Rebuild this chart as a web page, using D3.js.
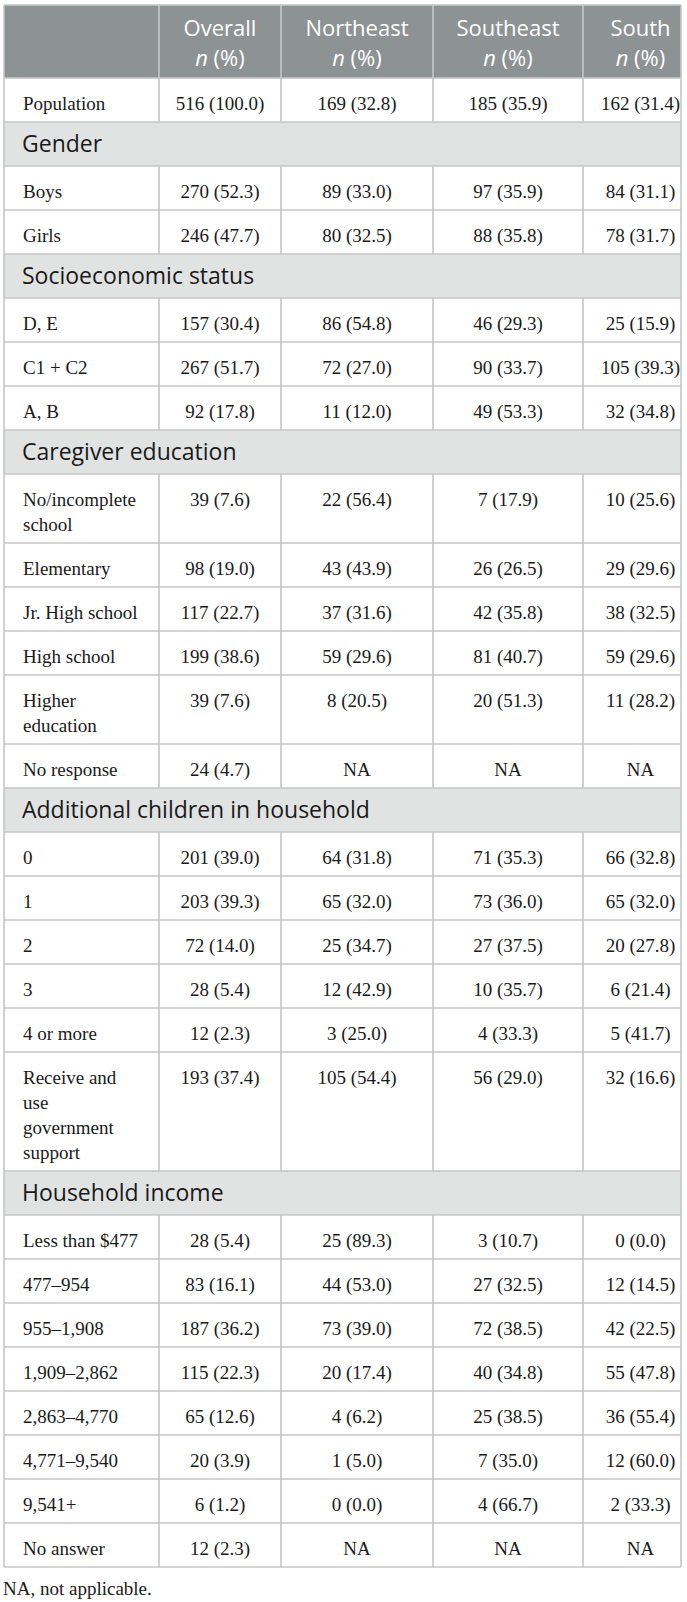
<!DOCTYPE html>
<html>
<head>
<meta charset="utf-8">
<script src="https://cdn.jsdelivr.net/npm/d3@7"></script>
<style>
  body { margin: 0; background: #fff; }
</style>
</head>
<body>
<script>
// column headers
var columns = ["Overall", "Northeast", "Southeast", "South"];

// section titles, shown as grey bands
var sectionTitles = ["Gender", "Socioeconomic status", "Caregiver education",
    "Additional children in household", "Household income"];

// row labels ("\n" = line break in the cell) and the section they belong to (-1 = none)
var rowLabels = ["Population",
    "Boys", "Girls",
    "D, E", "C1 + C2", "A, B",
    "No/incomplete\nschool", "Elementary", "Jr. High school", "High school", "Higher\neducation", "No response",
    "0", "1", "2", "3", "4 or more", "Receive and\nuse\ngovernment\nsupport",
    "Less than $477", "477\u2013954", "955\u20131,908", "1,909\u20132,862", "2,863\u20134,770",
    "4,771\u20139,540", "9,541+", "No answer"];
var rowSection = [-1, 0, 0, 1, 1, 1, 2, 2, 2, 2, 2, 2, 3, 3, 3, 3, 3, 3, 4, 4, 4, 4, 4, 4, 4, 4];

// n and % per region (null = NA)
var overallN   = [516, 270, 246, 157, 267, 92, 39, 98, 117, 199, 39, 24, 201, 203, 72, 28, 12, 193, 28, 83, 187, 115, 65, 20, 6, 12];
var overallPct = [100.0, 52.3, 47.7, 30.4, 51.7, 17.8, 7.6, 19.0, 22.7, 38.6, 7.6, 4.7, 39.0, 39.3, 14.0, 5.4, 2.3, 37.4, 5.4, 16.1, 36.2, 22.3, 12.6, 3.9, 1.2, 2.3];
var northeastN   = [169, 89, 80, 86, 72, 11, 22, 43, 37, 59, 8, null, 64, 65, 25, 12, 3, 105, 25, 44, 73, 20, 4, 1, 0, null];
var northeastPct = [32.8, 33.0, 32.5, 54.8, 27.0, 12.0, 56.4, 43.9, 31.6, 29.6, 20.5, null, 31.8, 32.0, 34.7, 42.9, 25.0, 54.4, 89.3, 53.0, 39.0, 17.4, 6.2, 5.0, 0.0, null];
var southeastN   = [185, 97, 88, 46, 90, 49, 7, 26, 42, 81, 20, null, 71, 73, 27, 10, 4, 56, 3, 27, 72, 40, 25, 7, 4, null];
var southeastPct = [35.9, 35.9, 35.8, 29.3, 33.7, 53.3, 17.9, 26.5, 35.8, 40.7, 51.3, null, 35.3, 36.0, 37.5, 35.7, 33.3, 29.0, 10.7, 32.5, 38.5, 34.8, 38.5, 35.0, 66.7, null];
var southN   = [162, 84, 78, 25, 105, 32, 10, 29, 38, 59, 11, null, 66, 65, 20, 6, 5, 32, 0, 12, 42, 55, 36, 12, 2, null];
var southPct = [31.4, 31.1, 31.7, 15.9, 39.3, 34.8, 25.6, 29.6, 32.5, 29.6, 28.2, null, 32.8, 32.0, 27.8, 21.4, 41.7, 16.6, 0.0, 14.5, 22.5, 47.8, 55.4, 60.0, 33.3, null];

var footnote = "NA, not applicable.";

// layout
var width = 687, height = 1602;
var tableLeft = 4, tableRight = 681, tableTop = 5, headerH = 73;
var rowH = 44, lineH = 25;
var serif = "'Liberation Serif', 'Times New Roman', serif";
var sans = "'Open Sans', 'Noto Sans', sans-serif";
var headBg = "#8d9293", bandBg = "#e1e3e3", lineCol = "#c6c6c6";

var colN = [overallN, northeastN, southeastN, southN];
var colPct = [overallPct, northeastPct, southeastPct, southPct];

// left / right edge of each column (last column runs past the crop)
var xLeft = d3.scaleOrdinal().domain(["label"].concat(columns)).range([tableLeft, 159, 281, 433, 583]);
var xRight = d3.scaleOrdinal().domain(["label"].concat(columns)).range([159, 281, 433, 583, 698]);
function xMid(c) { return (xLeft(c) + xRight(c)) / 2; }

var fmt = d3.format(".1f");
function cellText(n, p) { return n == null ? "NA" : n + " (" + fmt(p) + ")"; }

// build the list of table rows: bands + data rows
var rows = [];
var prevSection = -1;
rowLabels.forEach(function(lab, i) {
    if (rowSection[i] !== prevSection) {
        rows.push({type: "band", text: sectionTitles[rowSection[i]]});
        prevSection = rowSection[i];
    }
    rows.push({type: "data", lines: lab.split("\n"), index: i});
});
var yPos = tableTop + headerH;
rows.forEach(function(r) {
    r.y = yPos;
    r.h = r.type === "band" ? rowH : rowH + (r.lines.length - 1) * lineH;
    yPos += r.h;
});
var tableBottom = yPos;

var svg = d3.select("body").append("svg")
    .attr("width", width)
    .attr("height", height)
    .style("display", "block");

svg.append("clipPath").attr("id", "tclip")
    .append("rect")
    .attr("x", 0).attr("y", 0)
    .attr("width", tableRight + 1).attr("height", height);

var table = svg.append("g").attr("clip-path", "url(#tclip)");

// header
table.append("rect")
    .attr("x", tableLeft).attr("y", tableTop)
    .attr("width", tableRight - tableLeft).attr("height", headerH)
    .attr("fill", headBg);

table.selectAll(".head").data(columns).enter().append("text")
    .attr("class", "head")
    .attr("x", function(d) { return xMid(d); })
    .attr("y", tableTop + 30.5)
    .attr("text-anchor", "middle")
    .attr("font-family", sans)
    .attr("font-size", 22)
    .attr("fill", "#fff")
    .text(function(d) { return d; });

var sub = table.selectAll(".headSub").data(columns).enter().append("text")
    .attr("class", "headSub")
    .attr("x", function(d) { return xMid(d); })
    .attr("y", tableTop + 60.5)
    .attr("text-anchor", "middle")
    .attr("font-family", sans)
    .attr("font-size", 22)
    .attr("fill", "#fff");
sub.append("tspan").attr("font-style", "italic").text("n");
sub.append("tspan").text(" (%)");

// bands
var bands = rows.filter(function(r) { return r.type === "band"; });
table.selectAll(".band").data(bands).enter().append("rect")
    .attr("class", "band")
    .attr("x", tableLeft).attr("y", function(d) { return d.y; })
    .attr("width", tableRight - tableLeft).attr("height", function(d) { return d.h; })
    .attr("fill", bandBg);
table.selectAll(".bandText").data(bands).enter().append("text")
    .attr("class", "bandText")
    .attr("x", 22)
    .attr("y", function(d) { return d.y + 30; })
    .attr("font-family", sans)
    .attr("font-size", 23)
    .attr("fill", "#1a1a1a")
    .text(function(d) { return d.text; });

// data rows
var dataRows = rows.filter(function(r) { return r.type === "data"; });

// one text per label line
var labelLines = [];
dataRows.forEach(function(r) {
    r.lines.forEach(function(l, k) { labelLines.push({text: l, y: r.y + 31.5 + k * lineH}); });
});
table.selectAll(".rowLabel").data(labelLines).enter().append("text")
    .attr("class", "rowLabel")
    .attr("x", 23)
    .attr("y", function(d) { return d.y; })
    .attr("font-family", serif)
    .attr("font-size", 19)
    .attr("fill", "#1a1a1a")
    .text(function(d) { return d.text; });

columns.forEach(function(c, ci) {
    table.selectAll(".cell" + ci).data(dataRows).enter().append("text")
        .attr("class", "cell" + ci)
        .attr("x", xMid(c))
        .attr("y", function(d) { return d.y + 31.5; })
        .attr("text-anchor", "middle")
        .attr("font-family", serif)
        .attr("font-size", 19)
        .attr("fill", "#1a1a1a")
        .text(function(d) { return cellText(colN[ci][d.index], colPct[ci][d.index]); });
});

// grid lines
var grid = table.append("g")
    .attr("stroke", lineCol)
    .attr("stroke-width", 1.6)
    .attr("fill", "none");

// horizontal lines
var hY = [tableTop, tableTop + headerH].concat(rows.map(function(r) { return r.y + r.h; }));
grid.selectAll(".hline").data(hY).enter().append("line")
    .attr("x1", tableLeft).attr("x2", tableRight)
    .attr("y1", function(d) { return d; })
    .attr("y2", function(d) { return d; });

// outer verticals
grid.selectAll(".outer").data([tableLeft, tableRight]).enter().append("line")
    .attr("x1", function(d) { return d; }).attr("x2", function(d) { return d; })
    .attr("y1", tableTop).attr("y2", tableBottom);

// inner verticals: header + every data row (not the bands)
var segs = [{y: tableTop, h: headerH}].concat(dataRows.map(function(r) { return {y: r.y, h: r.h}; }));
columns.forEach(function(c) {
    grid.selectAll(".v" + c).data(segs).enter().append("line")
        .attr("x1", xLeft(c)).attr("x2", xLeft(c))
        .attr("y1", function(d) { return d.y; })
        .attr("y2", function(d) { return d.y + d.h; });
});

// footnote
svg.append("text")
    .attr("x", 3)
    .attr("y", tableBottom + 28)
    .attr("font-family", serif)
    .attr("font-size", 19)
    .attr("fill", "#1a1a1a")
    .text(footnote);
</script>
</body>
</html>
